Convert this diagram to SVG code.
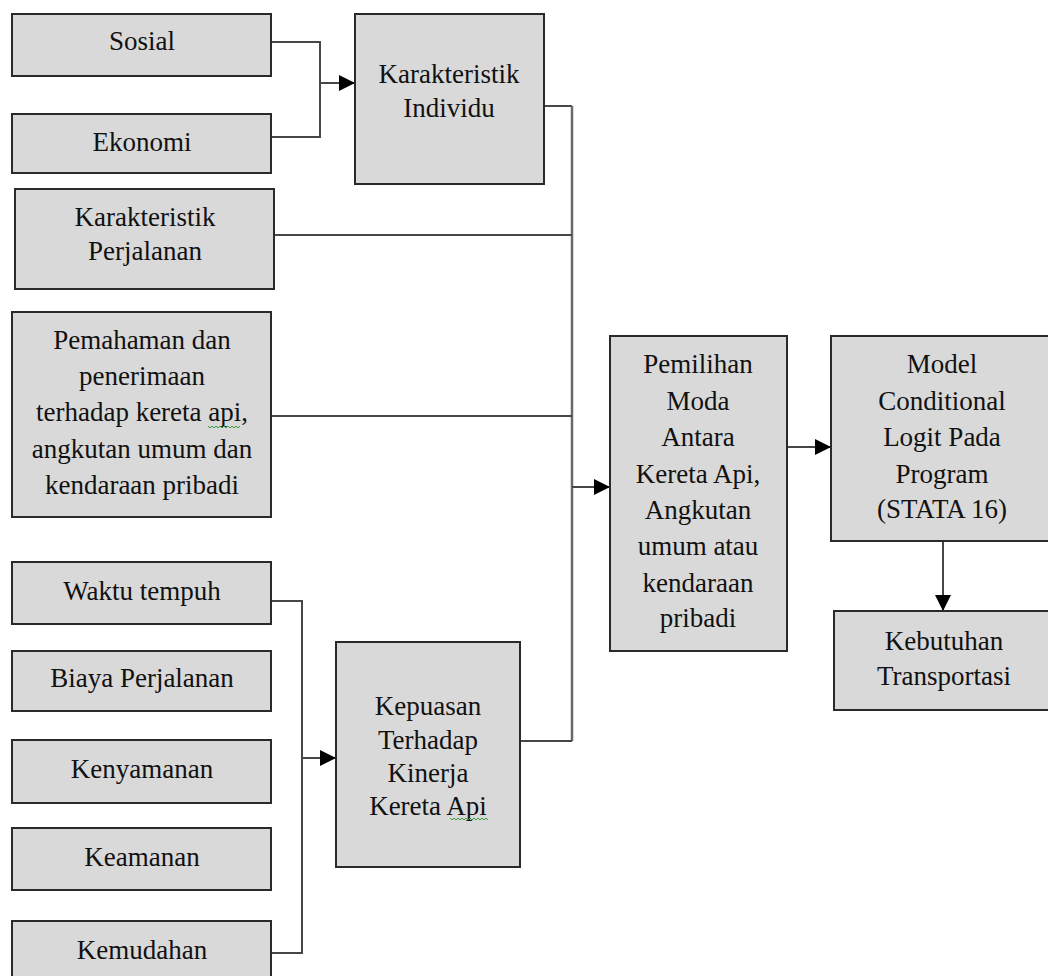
<svg xmlns="http://www.w3.org/2000/svg" width="1048" height="976" viewBox="0 0 1048 976">
<defs>
<style>
.box{fill:#d9d9d9;stroke:#2a2a2a;stroke-width:2}
.t{font-family:"Liberation Serif","Times New Roman",serif;font-size:27px;fill:#111;text-anchor:middle}
.ln{fill:none;stroke:#474747;stroke-width:2}
.lv{fill:none;stroke:#6a6a6a;stroke-width:2.5}
.sq{fill:none;stroke:#3a9a3a;stroke-width:1}
</style>
<marker id="ah" markerUnits="userSpaceOnUse" markerWidth="16" markerHeight="16" refX="16" refY="8" orient="auto">
<path d="M0,0 L16,8 L0,16 z" fill="#000"/>
</marker>
</defs>
<rect width="1048" height="976" fill="#fff"/>

<g id="connectors">
<path class="ln" d="M271,42 H320 V137 H271"/>
<path class="ln" d="M320,83 H355" marker-end="url(#ah)"/>
<path class="ln" d="M544,106 H572"/>
<path class="lv" d="M572,106 V741"/>
<path class="ln" d="M572,741 H520"/>
<path class="ln" d="M274,235 H572"/>
<path class="ln" d="M271,416 H572"/>
<path class="ln" d="M572,487 H610" marker-end="url(#ah)"/>
<path class="ln" d="M271,601 H302 V953 H271"/>
<path class="ln" d="M302,758 H336" marker-end="url(#ah)"/>
<path class="ln" d="M787,447 H831" marker-end="url(#ah)"/>
<path class="ln" d="M943,541 V611" marker-end="url(#ah)"/>
</g>

<g id="sosial"><rect class="box" x="12" y="14" width="259" height="62"/><text class="t" x="142" y="50">Sosial</text></g>
<g id="ekonomi"><rect class="box" x="12" y="114" width="259" height="59"/><text class="t" x="142" y="151">Ekonomi</text></g>
<g id="karakteristik-individu"><rect class="box" x="355" y="14" width="189" height="170"/><text class="t" x="449" y="83">Karakteristik</text><text class="t" x="449" y="117">Individu</text></g>
<g id="karakteristik-perjalanan"><rect class="box" x="15" y="189" width="259" height="100"/><text class="t" x="145" y="226">Karakteristik</text><text class="t" x="145" y="260">Perjalanan</text></g>
<g id="pemahaman"><rect class="box" x="12" y="312" width="259" height="205"/>
<text class="t" x="142" y="349">Pemahaman dan</text>
<text class="t" x="142" y="385">penerimaan</text>
<text class="t" x="142" y="421">terhadap kereta api,</text>
<text class="t" x="142" y="458">angkutan umum dan</text>
<text class="t" x="142" y="494">kendaraan pribadi</text>
<polyline class="sq" points="208,426 210,428 212,426 214,428 216,426 218,428 220,426 222,428 224,426 226,428 228,426 230,428 232,426 234,428 236,426 238,428 240,426"/>
</g>
<g id="waktu-tempuh"><rect class="box" x="12" y="562" width="259" height="62"/><text class="t" x="142" y="600">Waktu tempuh</text></g>
<g id="biaya-perjalanan"><rect class="box" x="12" y="651" width="259" height="60"/><text class="t" x="142" y="687">Biaya Perjalanan</text></g>
<g id="kenyamanan"><rect class="box" x="12" y="740" width="259" height="63"/><text class="t" x="142" y="778">Kenyamanan</text></g>
<g id="keamanan"><rect class="box" x="12" y="828" width="259" height="62"/><text class="t" x="142" y="866">Keamanan</text></g>
<g id="kemudahan"><rect class="box" x="12" y="921" width="259" height="70"/><text class="t" x="142" y="959">Kemudahan</text></g>
<g id="kepuasan"><rect class="box" x="336" y="642" width="184" height="225"/>
<text class="t" x="428" y="715">Kepuasan</text>
<text class="t" x="428" y="749">Terhadap</text>
<text class="t" x="428" y="782">Kinerja</text>
<text class="t" x="428" y="815">Kereta Api</text>
<polyline class="sq" points="450,818 452,820 454,818 456,820 458,818 460,820 462,818 464,820 466,818 468,820 470,818 472,820 474,818 476,820 478,818 480,820 482,818 484,820 486,818 488,820"/>
</g>
<g id="pemilihan-moda"><rect class="box" x="610" y="336" width="177" height="315"/>
<text class="t" x="698" y="373">Pemilihan</text>
<text class="t" x="698" y="410">Moda</text>
<text class="t" x="698" y="446">Antara</text>
<text class="t" x="698" y="483">Kereta Api,</text>
<text class="t" x="698" y="519">Angkutan</text>
<text class="t" x="698" y="555">umum atau</text>
<text class="t" x="698" y="592">kendaraan</text>
<text class="t" x="698" y="627">pribadi</text>
</g>
<g id="model"><rect class="box" x="831" y="336" width="222" height="205"/>
<text class="t" x="942" y="373">Model</text>
<text class="t" x="942" y="410">Conditional</text>
<text class="t" x="942" y="446">Logit Pada</text>
<text class="t" x="942" y="483">Program</text>
<text class="t" x="942" y="518">(STATA 16)</text>
</g>
<g id="kebutuhan"><rect class="box" x="834" y="611" width="219" height="99"/>
<text class="t" x="944" y="650">Kebutuhan</text>
<text class="t" x="944" y="685">Transportasi</text>
</g>
</svg>
